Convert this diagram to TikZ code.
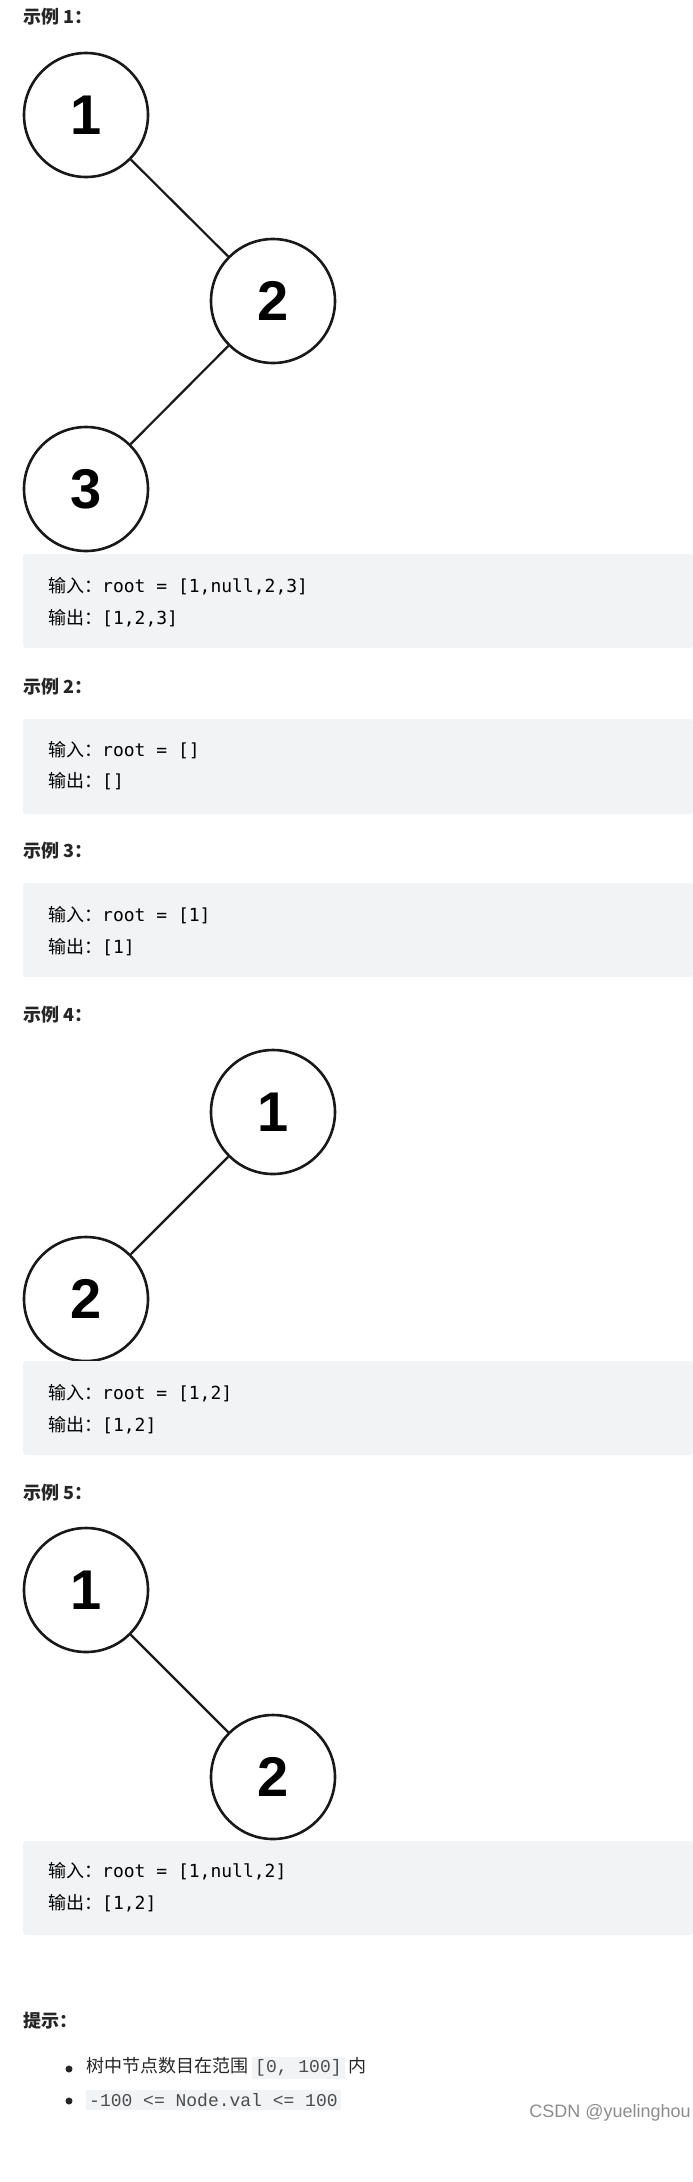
\documentclass[tikz,border=0pt]{standalone}
\usepackage{fontspec}
\setmainfont{Liberation Sans}
\newfontfamily\cjk{Noto Sans CJK SC}
\newfontfamily\codef{DejaVu Sans Mono}
\newfontfamily\hintf{Liberation Mono}
\definecolor{boxbg}{HTML}{F2F3F5}
\definecolor{txt}{HTML}{262626}
\begin{document}
\begin{tikzpicture}[x=1pt,y=-1pt,
  tn/.style={circle,draw=black!90,line width=2.6pt,minimum size=124pt,inner sep=0pt,font=\fontsize{56}{56}\selectfont\bfseries},
  edge/.style={line width=2.2pt,black!90},
  title/.style={anchor=west,font=\cjk\bfseries\fontsize{18}{18}\selectfont,text=txt,inner sep=0pt},
  code/.style={anchor=west,font=\fontsize{18}{18}\selectfont,text=black,inner sep=0pt},
  cbox/.style={fill=boxbg,rounded corners=3pt}]
\useasboundingbox (0,0) rectangle (693,2182);
\newcommand\cj[1]{{\cjk #1}}
% example 1
\node[title] (t1) at (23,17) {示例 1：};
\node[tn] (a1) at (86,115) {1};
\node[tn] (a2) at (273,301) {2};
\node[tn] (a3) at (86,489) {3};
\draw[edge] (a1) -- (a2);
\draw[edge] (a2) -- (a3);
\fill[cbox] (23,554) rectangle (693,648);
\node[code] (c1a) at (48,586) {\cj{输入：}\codef root = [1,null,2,3]};
\node[code] (c1b) at (48,618) {\cj{输出：}\codef [1,2,3]};
% example 2
\node[title] (t2) at (23,687) {示例 2：};
\fill[cbox] (23,719) rectangle (693,814);
\node[code] (c2a) at (48,750) {\cj{输入：}\codef root = []};
\node[code] (c2b) at (48,781) {\cj{输出：}\codef []};
% example 3
\node[title] (t3) at (23,851) {示例 3：};
\fill[cbox] (23,883) rectangle (693,977);
\node[code] (c3a) at (48,915) {\cj{输入：}\codef root = [1]};
\node[code] (c3b) at (48,947) {\cj{输出：}\codef [1]};
% example 4
\node[title] (t4) at (23,1015) {示例 4：};
\node[tn] (b1) at (273,1112) {1};
\node[tn] (b2) at (86,1299) {2};
\draw[edge] (b1) -- (b2);
\fill[cbox] (23,1361) rectangle (693,1455);
\node[code] (c4a) at (48,1393) {\cj{输入：}\codef root = [1,2]};
\node[code] (c4b) at (48,1425) {\cj{输出：}\codef [1,2]};
% example 5
\node[title] (t5) at (23,1493) {示例 5：};
\node[tn] (d1) at (86,1590) {1};
\node[tn] (d2) at (273,1777) {2};
\draw[edge] (d1) -- (d2);
\fill[cbox] (23,1841) rectangle (693,1935);
\node[code] (c5a) at (48,1871) {\cj{输入：}\codef root = [1,null,2]};
\node[code] (c5b) at (48,1903) {\cj{输出：}\codef [1,2]};
% hints
\node[title] (h) at (23,2021) {提示：};
\fill[txt] (69,2069) circle (3.5pt);
\node[anchor=west,inner sep=0pt,font=\cjk\fontsize{18}{18}\selectfont,text=txt] (h1) at (86,2068)
  {树中节点数目在范围 \colorbox{boxbg}{\hintf\color{black!70}[0, 100]} 内};
\fill[txt] (69,2101) circle (3.5pt);
\node[anchor=west,inner sep=0pt,font=\fontsize{18}{18}\selectfont,text=black!70] (h2) at (86,2100)
  {\colorbox{boxbg}{\hintf -100 <= Node.val <= 100}};
\node[anchor=east,inner sep=0pt,font=\fontsize{18}{18}\selectfont,text=black!45] (w) at (691,2113) {CSDN @yuelinghou};
\end{tikzpicture}
\end{document}
